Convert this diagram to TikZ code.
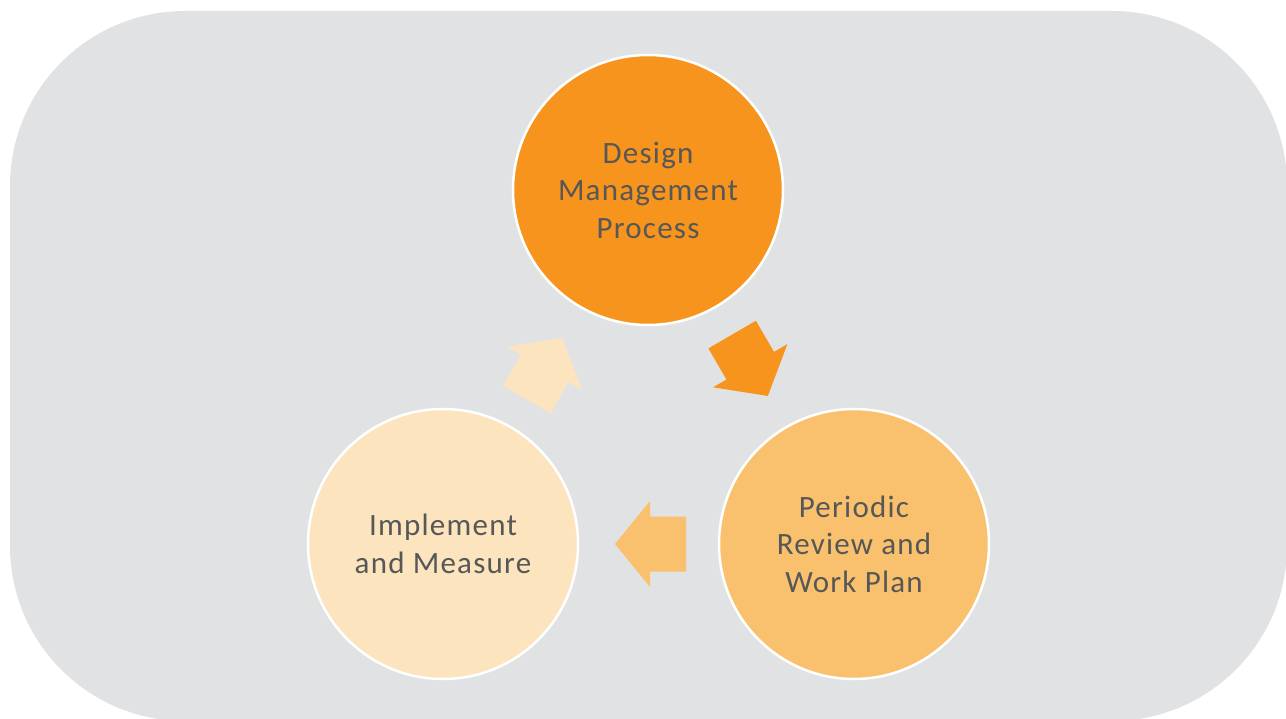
\documentclass[tikz,border=0pt]{standalone}
\usepackage{fontspec}
\setmainfont{Carlito}
\newfontfamily\stagefont[LetterSpace=4.0]{Carlito}
\usetikzlibrary{calc}

\definecolor{panelgray}{HTML}{E1E2E4}
\definecolor{stageone}{HTML}{F7941D}
\definecolor{stagetwo}{HTML}{F9C16E}
\definecolor{stagethree}{HTML}{FCE4BE}
\definecolor{labelgray}{HTML}{575757}

% block arrow centred between two nodes, pointing from #1 to #2
\newcommand\cyclearrow[3]{%
  \coordinate (m) at ($(#1)!0.5!(#2)$);
  \coordinate (bk) at ($(m)!-37.5pt!(#2)$);
  \coordinate (hb) at ($(m)!-1.5pt!(#2)$);
  \coordinate (tp) at ($(m)!33.5pt!(#2)$);
  \fill[#3] ($(bk)!27.5pt!90:(#2)$) -- ($(hb)!27.5pt!90:(#2)$)
    -- ($(hb)!43pt!90:(#2)$) -- (tp) -- ($(hb)!43pt!-90:(#2)$)
    -- ($(hb)!27.5pt!-90:(#2)$) -- ($(bk)!27.5pt!-90:(#2)$) -- cycle;
}

\begin{document}
\begin{tikzpicture}[x=1pt,y=1pt,
  stage/.style={circle, draw=white, line width=2.5pt, minimum size=270pt,
    inner sep=0pt, align=center, text=labelgray,
    font=\stagefont\fontsize{31}{37.5}\selectfont}]
  \useasboundingbox (0,0) rectangle (1286,-719);
  \fill[panelgray, rounded corners=175pt] (10,-11) rectangle (1287,-721);

  \node[stage, fill=stageone]   (design)  at (648,-190) {Design\\Management\\Process};
  \node[stage, fill=stagetwo]   (review)  at (854,-544) {Periodic\\Review and\\Work Plan};
  \node[stage, fill=stagethree] (measure) at (443,-544) {Implement\\and Measure};

  \cyclearrow{design}{review}{stageone}
  \cyclearrow{review}{measure}{stagetwo}
  \cyclearrow{measure}{design}{stagethree}
\end{tikzpicture}
\end{document}
